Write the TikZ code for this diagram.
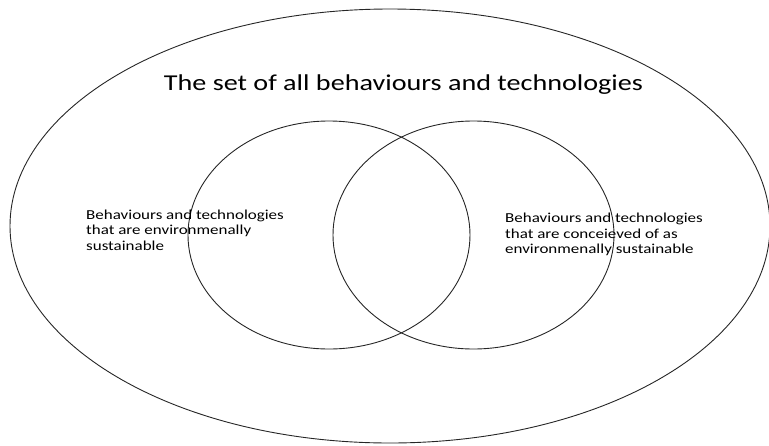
\documentclass[tikz,border=0pt]{standalone}
\usepackage{fontspec}
\setmainfont[FakeStretch=1.24]{Carlito}
\usetikzlibrary{shapes.geometric}

\begin{document}
\begin{tikzpicture}[x=1pt, y=-1pt,
      set/.style={ellipse, draw=black!85, line width=0.9pt, inner sep=0pt},
      lbl/.style={anchor=base west, inner sep=0pt, align=left,
                  font=\fontsize{13.7}{15.7}\selectfont}]
    \useasboundingbox (0,0) rectangle (769,445);
    % outer set and the two overlapping subsets
    \node[set, minimum width=760pt, minimum height=434pt] (all)  at (390,226)   {};
    \node[set, minimum width=282pt, minimum height=228pt] (real) at (329,235)   {};
    \node[set, minimum width=281pt, minimum height=228pt] (seen) at (473.5,235) {};
    \node[anchor=base, inner sep=0pt, font=\fontsize{22.7}{27}\selectfont] (title) at (403.5,90.7)
      {The set of all behaviours and technologies};
    % base of a multi-line node sits on its last line
    \node[lbl] (realtxt) at (86,250.4)
      {Behaviours and technologies\\that are environmenally\\sustainable};
    \node[lbl] (seentxt) at (505,253.7)
      {Behaviours and technologies\\that are conceieved of as\\environmenally sustainable};
  \end{tikzpicture}
\end{document}
